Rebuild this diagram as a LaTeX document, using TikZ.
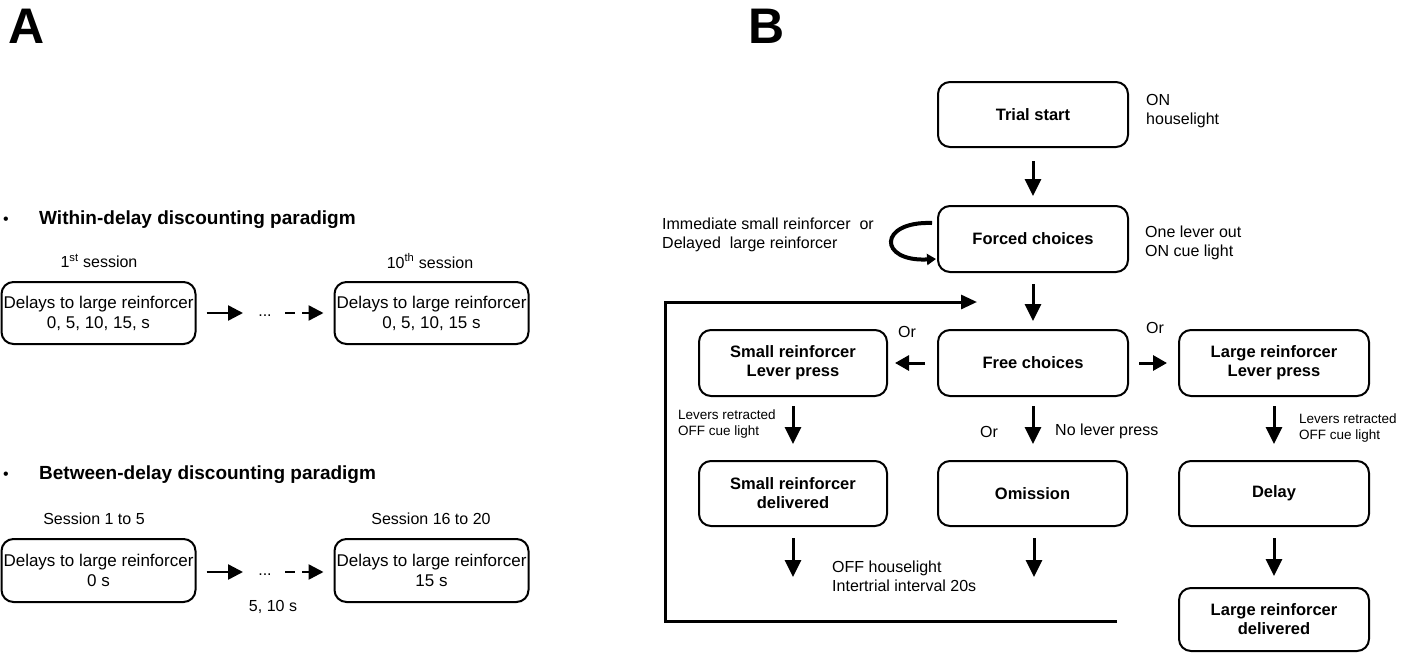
\documentclass[tikz,border=0pt]{standalone}
\usepackage{fontspec}
\setmainfont{Liberation Sans}
\usetikzlibrary{arrows.meta}
\newcommand\panelfont{\fontsize{50}{56}\selectfont\bfseries}
\newcommand\titlefont{\fontsize{19}{22}\selectfont\bfseries}
\newcommand\boxfont{\fontsize{17}{20}\selectfont}
\newcommand\labfont{\fontsize{16}{19}\selectfont}
\newcommand\bboxfont{\fontsize{16.5}{19}\selectfont\bfseries}
\newcommand\smallfont{\fontsize{13.5}{16}\selectfont}
\tikzset{
  panel/.style={font=\panelfont, inner sep=0pt},
  ttl/.style={font=\titlefont, inner sep=0pt, anchor=base west},
  bul/.style={font=\labfont, inner sep=0pt, anchor=base},
  lab/.style={font=\labfont, inner sep=0pt, align=center},
  sidelab/.style={font=\labfont, inner sep=0pt, align=left, anchor=west},
  smalllab/.style={font=\smallfont, inner sep=0pt, align=left, anchor=west},
  abox/.style={draw, line width=2pt, rounded corners=12pt, inner sep=0pt, align=center,
    font=\boxfont, minimum width=194pt, minimum height=62pt},
  bbox/.style={draw, line width=2pt, rounded corners=12pt, inner sep=0pt, align=center,
    font=\bboxfont, minimum width=190pt, minimum height=65pt},
  dotsnode/.style={font=\labfont, inner sep=0pt, minimum height=4pt},
  aarr/.style={line width=2.5pt, -{Triangle[length=15pt,width=15pt]}},
  adash/.style={aarr, dash pattern=on 10pt off 7pt},
  varr/.style={line width=3pt, -{Triangle[length=17pt,width=16pt]}},
  harr/.style={line width=3pt, -{Triangle[length=14pt,width=15pt]}},
}
\begin{document}
\begin{tikzpicture}[x=1pt,y=-1pt]
\useasboundingbox (0,0) rectangle (1415,653);
% panel letters
\node[panel, anchor=base west] (pA) at (8,43) {A};
\node[panel, anchor=base west] (pB) at (748,43) {B};

% ---------- Panel A, row 1
\node[bul] (b1) at (6,224) {•};
\node[ttl] (t1) at (39,224) {Within-delay discounting paradigm};
\node[lab] (s1) at (99,261) {1\textsuperscript{st} session};
\node[lab] (s2) at (430,261) {10\textsuperscript{th} session};
\node[abox] (a1) at (98.5,313) {Delays to large reinforcer\\0, 5, 10, 15, s};
\node[abox] (a2) at (431.5,313) {Delays to large reinforcer\\0, 5, 10, 15 s};
\node[dotsnode, anchor=base] (d1) at (265,316) {...};
\coordinate (d1w) at (258,313);
\coordinate (d1e) at (272,313);
\draw[aarr, shorten <=10pt, shorten >=15pt] (a1.east) -- (d1w);
\draw[adash, shorten <=13pt, shorten >=10pt] (d1e) -- (a2.west);

% ---------- Panel A, row 2
\node[bul] (b2) at (6,479) {•};
\node[ttl] (t2) at (39,479) {Between-delay discounting paradigm};
\node[lab] (s3) at (94,519) {Session 1 to 5};
\node[lab] (s4) at (431,519) {Session 16 to 20};
\node[abox, minimum height=63pt] (a3) at (98.5,570.5) {Delays to large reinforcer\\0 s};
\node[abox, minimum height=63pt] (a4) at (431.5,570.5) {Delays to large reinforcer\\15 s};
\node[dotsnode, anchor=base] (d2) at (265,575) {...};
\coordinate (d2w) at (258,572);
\coordinate (d2e) at (272,572);
\node[lab] (s5) at (273,607) {5, 10 s};
\draw[aarr, shorten <=10pt, shorten >=15pt] (a3.east|-d2w) -- (d2w);
\draw[adash, shorten <=13pt, shorten >=10pt] (d2e) -- (a4.west|-d2e);

% ---------- Panel B
\node[bbox] (trial) at (1033,114.5) {Trial start};
\node[sidelab] (on) at (1146,111.5) {ON\\houselight};
\node[bbox, minimum height=66pt] (forced) at (1033,239) {Forced choices};
\node[sidelab] (one) at (1145,242.5) {One lever out\\ON cue light};
\node[sidelab] (imm) at (662,235) {Immediate small reinforcer~ or\\Delayed~ large reinforcer};
\coordinate (lp1) at (932,223);
\coordinate (lp2) at (936,259);
\draw[line width=4pt, -{Triangle[length=9pt,width=11pt]}] (lp1) .. controls (878,221) and (878,262) .. (lp2);

\node[bbox, minimum height=66pt] (free) at (1033,363) {Free choices};
\node[bbox, minimum width=188pt, minimum height=66pt] (slp) at (793,363) {Small reinforcer\\Lever press};
\node[bbox, minimum height=66pt] (llp) at (1274,363) {Large reinforcer\\Lever press};
\node[lab] (or1) at (907,332) {Or};
\node[lab] (or2) at (1155,328) {Or};
\node[lab] (or3) at (989,432) {Or};
\node[sidelab] (nlp) at (1055,431) {No lever press};
\node[smalllab] (lr1) at (678,424) {Levers retracted\\OFF cue light};
\node[smalllab] (lr2) at (1299,428.5) {Levers retracted\\OFF cue light};

\node[bbox, minimum width=188pt] (sdel) at (793,493.5) {Small reinforcer\\delivered};
\node[bbox, minimum width=189pt] (omis) at (1032.5,493.5) {Omission};
\node[bbox] (delay) at (1274,493.5) {Delay};
\node[bbox, minimum height=63pt] (ldel) at (1274,619.5) {Large reinforcer\\delivered};
\node[sidelab] (iti) at (832,576) {OFF houselight\\Intertrial interval 20s};

\draw[varr, shorten <=13pt, shorten >=9pt] (trial.south) -- (forced.north);
\draw[varr, shorten <=11pt, shorten >=8pt] (forced.south) -- (free.north);
\draw[varr, shorten <=9pt, shorten >=16pt] (free.south) -- (omis.north-|free.south);
\draw[varr, shorten <=9pt, shorten >=16pt] (slp.south) -- (sdel.north);
\draw[varr, shorten <=9pt, shorten >=16pt] (llp.south) -- (delay.north);
\draw[varr, shorten <=11pt, shorten >=11pt] (delay.south) -- (ldel.north);
\draw[harr, shorten <=12pt, shorten >=7pt] (free.west) -- (slp.east);
\draw[harr, shorten <=10pt, shorten >=11pt] (free.east) -- (llp.west);

\coordinate (e1) at (793,577);
\coordinate (e2) at (1034,577);
\draw[varr, shorten <=11pt] (sdel.south) -- (e1);
\draw[varr, shorten <=11pt] (omis.south-|e2) -- (e2);

% feedback loop
\coordinate (fb1) at (1117,621);
\coordinate (fb2) at (665,621);
\coordinate (fb3) at (665,302);
\coordinate (fb4) at (977,302);
\draw[line width=3pt, -{Triangle[length=16pt,width=14pt]}] (fb1) -- (fb2) -- (fb3) -- (fb4);
\end{tikzpicture}
\end{document}
